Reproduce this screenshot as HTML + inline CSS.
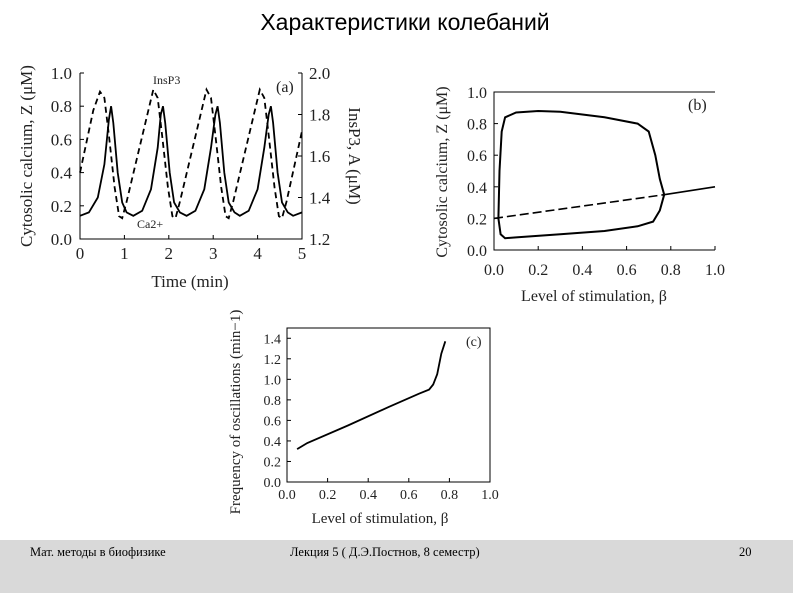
<!DOCTYPE html>
<html><head><meta charset="utf-8">
<style>
html,body{margin:0;padding:0;background:#fff;width:793px;height:596px;overflow:hidden}
svg text{font-family:"Liberation Serif","Noto Serif CJK SC",serif;fill:#222}
.title{font-family:"Liberation Sans","Noto Sans CJK SC",sans-serif;font-size:23px;fill:#000}
.foot{font-family:"Liberation Serif","Noto Serif CJK SC",serif;font-size:12.5px;fill:#000}
</style></head>
<body>
<svg id="s" width="793" height="596" xmlns="http://www.w3.org/2000/svg">
<text class="title" x="405" y="30" text-anchor="middle">Характеристики колебаний</text>
<rect x="0" y="540" width="793" height="53" fill="#d9d9d9"/>
<text class="foot" x="30" y="556">Мат. методы в биофизике</text>
<text class="foot" x="290" y="556">Лекция 5 ( Д.Э.Постнов, 8 семестр)</text>
<text class="foot" x="739" y="556">20</text>
<g id="ga"></g>
<g id="gb"></g>
<g id="gc"></g>
</svg>
<script>
// Panel (a)
const caT=[0,0.2,0.4,0.55,0.65,0.7,0.75,0.85,0.95,1.05,1.2,1.4,1.6,1.75,1.82,1.87,1.92,2.02,2.12,2.25,2.4,2.6,2.8,2.95,3.05,3.1,3.15,3.25,3.35,3.48,3.6,3.8,4.0,4.15,4.25,4.3,4.35,4.45,4.55,4.68,4.8,5.0];
const caZ=[0.14,0.16,0.25,0.45,0.72,0.8,0.7,0.4,0.22,0.16,0.14,0.17,0.3,0.55,0.75,0.8,0.7,0.4,0.22,0.16,0.14,0.17,0.3,0.55,0.75,0.8,0.7,0.4,0.22,0.16,0.14,0.17,0.3,0.55,0.75,0.8,0.7,0.4,0.22,0.16,0.14,0.16];
const ipT=[0,0.3,0.45,0.55,0.65,0.78,0.88,0.95,1.05,1.65,1.75,1.85,1.98,2.08,2.15,2.25,2.85,2.95,3.05,3.18,3.28,3.35,3.45,4.05,4.15,4.25,4.38,4.48,4.55,4.65,5.0];
const ipA=[1.52,1.82,1.91,1.88,1.7,1.45,1.31,1.3,1.38,1.92,1.88,1.7,1.45,1.31,1.3,1.38,1.92,1.88,1.7,1.45,1.31,1.3,1.38,1.92,1.88,1.7,1.45,1.31,1.3,1.38,1.72];
const aXTicks=[0,1,2,3,4,5];
const aYTicks=[0,0.2,0.4,0.6,0.8,1.0];
const aY2Ticks=[1.2,1.4,1.6,1.8,2.0];
// Panel (b)
const bUpX=[0.02,0.025,0.035,0.05,0.1,0.2,0.3,0.5,0.65,0.7,0.73,0.75,0.77];
const bUpY=[0.2,0.5,0.75,0.84,0.87,0.88,0.875,0.84,0.8,0.75,0.6,0.45,0.35];
const bLoX=[0.77,0.75,0.72,0.65,0.5,0.3,0.1,0.05,0.03,0.02];
const bLoY=[0.35,0.25,0.18,0.15,0.12,0.1,0.08,0.075,0.1,0.2];
const bSsX=[0,0.77,1.0];
const bSsY=[0.2,0.35,0.4];
const bTicks=[0,0.2,0.4,0.6,0.8,1.0];
// Panel (c)
const cX=[0.05,0.1,0.3,0.5,0.65,0.7,0.72,0.74,0.76,0.78];
const cY=[0.32,0.38,0.55,0.73,0.86,0.9,0.95,1.05,1.25,1.37];
const cXTicks=[0,0.2,0.4,0.6,0.8,1.0];
const cYTicks=[0,0.2,0.4,0.6,0.8,1.0,1.2,1.4];

const NS="http://www.w3.org/2000/svg";
function mk(p,tag,at,txt){const e=document.createElementNS(NS,tag);for(const k in at)e.setAttribute(k,at[k]);if(txt!==undefined)e.textContent=txt;p.appendChild(e);return e;}
function lin(d0,d1,r0,r1){return v=>r0+(v-d0)/(d1-d0)*(r1-r0);}
function path(xs,ys,sx,sy){return xs.map((x,i)=>(i?'L':'M')+sx(x).toFixed(1)+','+sy(ys[i]).toFixed(1)).join(' ');}
function fmt(v,d){return v.toFixed(d);}

// ---- A
(function(){
const g=document.getElementById('ga');
const sx=lin(0,5,80,302), sy=lin(0,1,239,73), sy2=lin(1.2,2.0,239,73);
let e=mk(g,'path',{d:'M80,73 L80,239 L302,239 L302,73',fill:'none',stroke:'#000','stroke-width':1});

aXTicks.forEach(t=>{mk(g,'line',{x1:sx(t),x2:sx(t),y1:239,y2:235,stroke:'#000'});
 e=mk(g,'text',{x:sx(t),y:259,'font-size':17,'text-anchor':'middle'},String(t));
 });
aYTicks.forEach(t=>{mk(g,'line',{x1:80,x2:84,y1:sy(t),y2:sy(t),stroke:'#000'});
 e=mk(g,'text',{x:72,y:sy(t)+6,'font-size':17,'text-anchor':'end'},fmt(t,1));
 });
aY2Ticks.forEach(t=>{mk(g,'line',{x1:302,x2:298,y1:sy2(t),y2:sy2(t),stroke:'#000'});
 e=mk(g,'text',{x:309,y:sy2(t)+6,'font-size':17},fmt(t,1));
 });
e=mk(g,'path',{d:path(caT,caZ,sx,sy),fill:'none',stroke:'#000','stroke-width':1.8});

e=mk(g,'path',{d:path(ipT,ipA,sx,sy2),fill:'none',stroke:'#000','stroke-width':1.8,'stroke-dasharray':'6,4'});

e=mk(g,'text',{x:190,y:287,'font-size':17,'text-anchor':'middle'},'Time (min)');

e=mk(g,'text',{transform:'translate(32,156) rotate(-90)','font-size':17,'text-anchor':'middle'},'Cytosolic calcium, Z (μM)');

e=mk(g,'text',{transform:'translate(349,156) rotate(90)','font-size':17,'text-anchor':'middle'},'InsP3, A (μM)');

e=mk(g,'text',{x:153,y:84,'font-size':12},'InsP3');

e=mk(g,'text',{x:137,y:228,'font-size':12},'Ca2+');

e=mk(g,'text',{x:276,y:92,'font-size':16},'(a)');

})();

// ---- B
(function(){
const g=document.getElementById('gb');
const sx=lin(0,1,494,715), sy=lin(0,1,250,92);
let e=mk(g,'path',{d:'M715,92 L494,92 L494,250 L715,250',fill:'none',stroke:'#000','stroke-width':1});

bTicks.forEach(t=>{mk(g,'line',{x1:sx(t),x2:sx(t),y1:250,y2:246,stroke:'#000'});
 e=mk(g,'text',{x:sx(t),y:275,'font-size':16,'text-anchor':'middle'},fmt(t,1));
 
 mk(g,'line',{x1:494,x2:498,y1:sy(t),y2:sy(t),stroke:'#000'});
 e=mk(g,'text',{x:487,y:sy(t)+6,'font-size':16,'text-anchor':'end'},fmt(t,1));
 });
e=mk(g,'path',{d:path(bUpX,bUpY,sx,sy),fill:'none',stroke:'#000','stroke-width':2});

e=mk(g,'path',{d:path(bLoX,bLoY,sx,sy),fill:'none',stroke:'#000','stroke-width':2});

e=mk(g,'path',{d:path(bSsX.slice(0,2),bSsY.slice(0,2),sx,sy),fill:'none',stroke:'#000','stroke-width':1.6,'stroke-dasharray':'9,4'});

e=mk(g,'path',{d:path(bSsX.slice(1),bSsY.slice(1),sx,sy),fill:'none',stroke:'#000','stroke-width':1.6});

e=mk(g,'text',{x:594,y:301,'font-size':16,'text-anchor':'middle'},'Level of stimulation, β');

e=mk(g,'text',{transform:'translate(447,172) rotate(-90)','font-size':16,'text-anchor':'middle'},'Cytosolic calcium, Z (μM)');

e=mk(g,'text',{x:688,y:110,'font-size':16},'(b)');

})();

// ---- C
(function(){
const g=document.getElementById('gc');
const sx=lin(0,1,287,490), sy=lin(0,1.5,482,328);
let e=mk(g,'rect',{x:287,y:328,width:203,height:154,fill:'none',stroke:'#000','stroke-width':1});

cXTicks.forEach(t=>{mk(g,'line',{x1:sx(t),x2:sx(t),y1:482,y2:478,stroke:'#000'});
 e=mk(g,'text',{x:sx(t),y:499,'font-size':14,'text-anchor':'middle'},fmt(t,1));
 });
cYTicks.forEach(t=>{mk(g,'line',{x1:287,x2:291,y1:sy(t),y2:sy(t),stroke:'#000'});
 e=mk(g,'text',{x:281,y:sy(t)+5,'font-size':14,'text-anchor':'end'},fmt(t,1));
 });
e=mk(g,'path',{d:path(cX,cY,sx,sy),fill:'none',stroke:'#000','stroke-width':1.8});

e=mk(g,'text',{x:380,y:523,'font-size':15,'text-anchor':'middle'},'Level of stimulation, β');

e=mk(g,'text',{transform:'translate(240,412) rotate(-90)','font-size':15,'text-anchor':'middle'},'Frequency of oscillations (min−1)');

e=mk(g,'text',{x:466,y:346,'font-size':14},'(c)');

})();
</script>
</body></html>
